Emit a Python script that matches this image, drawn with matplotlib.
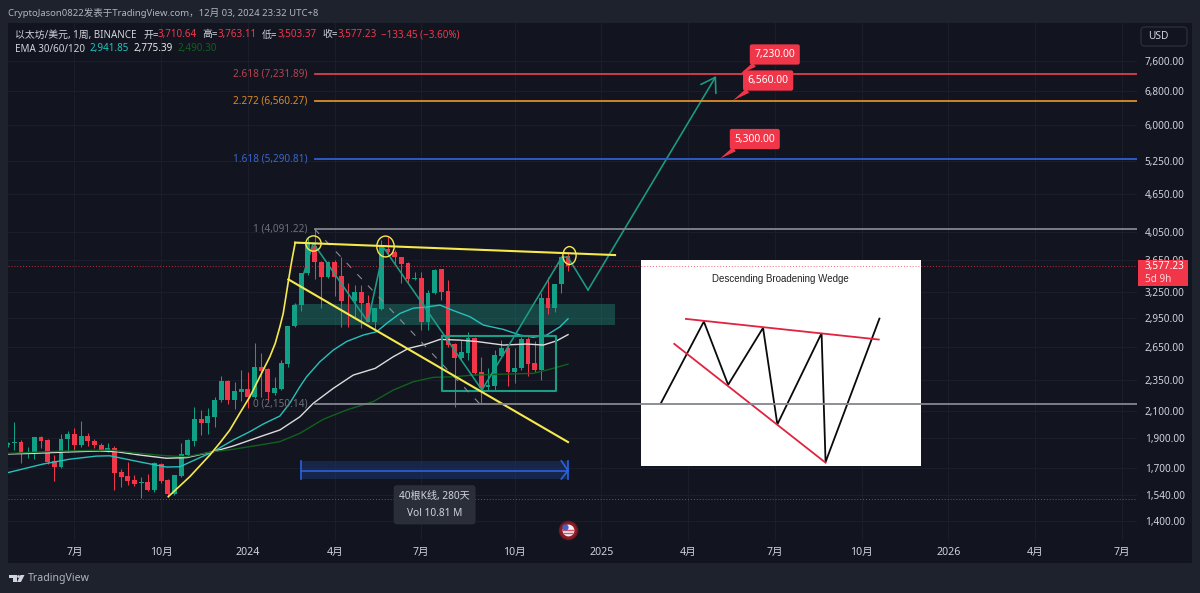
#!/usr/bin/env python3
"""
ETH/USD weekly chart (TradingView look) with fib levels and wedge drawing
"""
import numpy as np
import matplotlib
matplotlib.use('Agg')
import matplotlib.pyplot as plt
from matplotlib.markers import MarkerStyle
from matplotlib.patches import Circle, FancyBboxPatch, Polygon, Rectangle
from matplotlib.transforms import Affine2D, IdentityTransform

plt.rcParams['font.family'] = ['Noto Sans', 'Noto Sans CJK SC', 'DejaVu Sans']

BG = '#121520'
PANEL = '#1e222d'
GRID = '#1a1e2a'
UP = '#10a085'
DOWN = '#f2364a'
TEXT = '#d1d4dc'
YELLOW = '#f5e94e'
TEAL = '#1b9c85'

# weekly candles, oldest first
opens = [1852, 1864, 1870, 1788, 1798, 1903, 1884, 1747, 1708, 1891, 1928, 1850, 1914, 1877, 1850, 1810, 1827,
         1675, 1651, 1627, 1611, 1615, 1568, 1723, 1627, 1543, 1653, 1783, 1879, 2032, 2003, 2050, 2182, 2343,
         2182, 2249, 2270, 2209, 2461, 2449, 2237, 2270, 2491, 2864, 3094, 3477, 3842, 3627, 3433, 3627, 3443,
         3146, 3139, 3242, 3122, 2910, 3048, 3807, 3763, 3693, 3606, 3400, 3413, 2910, 3229, 3528, 3258, 2681,
         2544, 2596, 2737, 2416, 2287, 2300, 2568, 2645, 2422, 2452, 2727, 2497, 2437, 3170, 3059, 3342, 3710.64]
highs = [1873, 2011, 1884, 1834, 1907, 1912, 1889, 1783, 1924, 1950, 1967, 2020, 1931, 1891, 1866, 1866, 1843,
         1692, 1736, 1657, 1647, 1661, 1740, 1734, 1631, 1657, 1862, 1889, 2130, 2104, 2117, 2209, 2384, 2349,
         2334, 2437, 2422, 2693, 2596, 2452, 2377, 2528, 2864, 3113, 3477, 3975, 4091, 3640, 3640, 3650, 3693,
         3352, 3330, 3330, 3210, 3059, 3929, 3966, 3787, 3693, 3627, 3497, 3497, 3270, 3528, 3528, 3392, 2687,
         2720, 2805, 2754, 2553, 2452, 2622, 2720, 2661, 2639, 2754, 2754, 2710, 3235, 3424, 3342, 3704, 3763.11]
lows = [1838, 1816, 1730, 1762, 1756, 1827, 1725, 1621, 1698, 1805, 1816, 1838, 1843, 1827, 1810, 1803, 1568,
        1587, 1597, 1591, 1524, 1564, 1558, 1611, 1530, 1539, 1647, 1772, 1843, 1919, 1926, 1975, 2170, 2148,
        2110, 2174, 2117, 2196, 2209, 2174, 2223, 2264, 2467, 2857, 3032, 3459, 3400, 3059, 3420, 3200, 2857,
        2857, 2964, 2840, 2905, 2822, 3038, 3718, 3584, 3352, 3352, 3392, 2822, 2822, 3222, 3152, 2654, 2130,
        2528, 2528, 2392, 2156, 2264, 2264, 2560, 2300, 2321, 2437, 2383, 2422, 2349, 2993, 3020, 3235, 3503.37]
closes = [1862, 1873, 1788, 1801, 1903, 1877, 1740, 1708, 1891, 1928, 1850, 1914, 1875, 1848, 1816, 1827, 1671,
          1647, 1623, 1603, 1615, 1568, 1730, 1623, 1543, 1657, 1788, 1884, 2032, 2003, 2055, 2182, 2343, 2182,
          2253, 2270, 2204, 2461, 2431, 2245, 2278, 2497, 2864, 3094, 3477, 3881, 3627, 3433, 3627, 3433, 3144,
          3139, 3242, 3122, 2910, 3059, 3830, 3763, 3687, 3597, 3405, 3413, 2910, 3229, 3519, 3250, 2671, 2544,
          2600, 2737, 2407, 2278, 2306, 2575, 2645, 2422, 2452, 2727, 2491, 2437, 3170, 3059, 3342, 3693, 3577.23]

# EMA lines, read at bar positions
ema30_x = [0, 5.3, 9.3, 13.3, 15.3, 17.8, 20.8, 23.8, 25.8, 28.3, 30.8, 33.8, 36.3, 38.3, 40.8, 42.3, 43.8, 44.8,
           46.8, 48.8, 50.8, 53.3, 55.3, 56.8, 58.8, 60.8, 62.8, 64.8, 66.8, 69.3, 71.3, 74.3, 76.8, 78.8, 80.8,
           82.8, 84]
ema30 = [1671, 1725, 1756, 1776, 1778, 1756, 1730, 1706, 1708, 1756, 1805, 1884, 1943, 1998, 2058, 2158, 2292, 2377,
         2512, 2622, 2706, 2771, 2805, 2892, 3000, 3059, 3071, 3094, 3032, 2964, 2875, 2829, 2771, 2748, 2771,
         2857, 2941.85]
ema60_x = [0, 3.8, 8.8, 13.8, 16.3, 19.8, 23.8, 26.8, 30.8, 33.8, 37.8, 40.8, 43.8, 45.8, 48.8, 51.8, 55.1, 57.8,
           60.1, 62.8, 64.8, 67.8, 70.3, 74.3, 77.8, 80.3, 82.3, 84]
ema60 = [1790, 1794, 1803, 1810, 1805, 1783, 1762, 1766, 1805, 1843, 1907, 1955, 2052, 2156, 2278, 2392, 2452, 2559,
         2639, 2681, 2727, 2720, 2706, 2671, 2681, 2671, 2713, 2775.39]
ema120_x = [0, 8.8, 15.3, 18.8, 23.8, 26.8, 30.8, 33.8, 37.8, 40.8, 43.8, 47.3, 50.8, 54.8, 57.8, 60.8, 63.8, 66.8,
            69.8, 74.8, 78.8, 81.8, 84]
ema120 = [1794, 1810, 1816, 1798, 1778, 1772, 1805, 1821, 1850, 1873, 1931, 2033, 2104, 2170, 2264, 2334, 2372, 2377,
          2392, 2401, 2407, 2452, 2490.30]

# fib levels
fib_prices = [7231.89, 6560.27, 5290.81, 4091.22, 2150.14]
fib_labels = ['2.618 (7,231.89)', '2.272 (6,560.27)', '1.618 (5,290.81)', '1 (4,091.22)', '0 (2,150.14)']
fib_colors = ['#d9404c', '#dd8d2b', '#2f5fd0', '#83868e', '#83868e']
fib_text_colors = ['#b8434c', '#d98a2c', '#3a66cc', '#6d7078', '#6d7078']

# hand drawn lines on the chart
curve_x = [24.07, 27.3, 30.3, 31.8, 33.3, 34.8, 36.3, 38.3, 39.3, 40.1, 40.8, 41.3, 41.7, 42.1, 42.6, 43.1]
curve_y = [1530, 1647, 1783, 1864, 1955, 2080, 2209, 2437, 2559, 2687, 2857, 3000, 3190, 3392, 3650, 3892]
upper_x = [43.07, 91.05]
upper_y = [3892, 3718]
lower_x = [42.07, 84]
lower_y = [3400, 1870]
path_x = [44.4, 45.8, 54.0, 56.4, 71.1, 83.1, 84, 87]
path_y = [3481, 3885, 2908, 3815, 2264, 3693, 3687, 3270]
arrow_tip = (106.2, 7179)
dash_x = [46, 70.8]
dash_y = [4091.22, 2150.14]
circle_x = [45.8, 56.5, 84.1]
circle_y = [3892, 3850, 3720]

# callouts: anchor bar, anchor price, text bar, text price
call_text = ['7,230.00', '6,560.00', '5,300.00']
call_x = [109.8, 108.7, 106.8]
call_y = [7230, 6560, 5300]
call_tx = [115, 114, 112]
call_ty = [7770, 7061, 5695]

price_ticks = [7600, 6800, 6000, 5250, 4650, 4050, 3650, 3250, 2950, 2650, 2350, 2100, 1900, 1700, 1540, 1400]
time_ticks = [10, 23, 36, 49, 62, 76, 89, 102, 115, 128, 141, 154, 167]
time_labels = ['7月', '10月', '2024', '4月', '7月', '10月', '2025', '4月', '7月', '10月', '2026', '4月', '7月']

# little wedge picture, in its own coordinates
wedge_x = [93, 222, 295, 400, 443, 576, 588, 750]
wedge_y = [458, 213, 403, 232, 522, 248, 635, 204]
wedge_top_x = [168, 748]
wedge_top_y = [205, 267]
wedge_low_x = [133, 588]
wedge_low_y = [280, 637]


def px(x, y):
    return x / 1200, 1 - y / 593


fig = plt.figure(figsize=(12, 5.93), dpi=100, facecolor=PANEL)
fig.add_artist(Rectangle(px(8, 563), 1184 / 1200, 540 / 593, transform=fig.transFigure,
                         fc=BG, ec='none', zorder=-1))

rect = [8 / 1200, 1 - 541 / 593, 1129 / 1200, 518 / 593]
ax = fig.add_axes(rect, zorder=1)
ax.set_facecolor(BG)
ax.set_yscale('log')
ax.set_xlim(0.04, 169.3)
ax.set_ylim(1300, 8723)
for s in ax.spines.values():
    s.set_visible(False)
ax.yaxis.tick_right()
ax.set_yticks(price_ticks)
ax.set_yticklabels([f'{p:,.2f}' for p in price_ticks])
ax.minorticks_off()
ax.set_xticks(time_ticks)
ax.set_xticklabels(time_labels)
for lab in ax.get_xticklabels():
    if lab.get_text().startswith('20'):
        lab.set_fontweight('bold')
ax.tick_params(axis='y', length=0, pad=5.5, labelsize=7.2, labelcolor=TEXT)
ax.tick_params(axis='x', length=0, pad=4, labelsize=7.6, labelcolor=TEXT)
ax.grid(True, color=GRID, lw=0.8, zorder=0)
ax.set_axisbelow(True)

x = np.arange(len(opens))
opens = np.array(opens)
highs = np.array(highs)
lows = np.array(lows)
closes = np.array(closes)
colors = np.where(closes >= opens, UP, DOWN)

# zone and box go under the candles
ax.fill_between([42.7, 91], 2875, 3105, color='#1f8f7c', alpha=0.4, lw=0, zorder=1)
ax.vlines(x, lows, highs, colors=colors, lw=0.75, zorder=3)
ax.bar(x, np.abs(closes - opens), bottom=np.minimum(opens, closes), width=0.72, color=colors, zorder=3)

ax.plot(ema30_x, ema30, color='#25c2bc', lw=1.0, zorder=4)
ax.plot(ema60_x, ema60, color='#dcdcdc', lw=1.0, zorder=4)
ax.plot(ema120_x, ema120, color='#10601f', lw=1.0, zorder=4)

ax.plot([65.1, 82.2, 82.2, 65.1, 65.1], [2761, 2761, 2256, 2256, 2761], color=TEAL, lw=1.5, zorder=5)
ax.plot(dash_x, dash_y, color='#8a8d95', lw=0.8, dashes=(6, 8), zorder=5)
ax.plot(path_x, path_y, color=TEAL, lw=1.15, zorder=5, solid_joinstyle='miter')
ax.annotate('', xy=arrow_tip, xytext=(path_x[-1], path_y[-1]), zorder=5,
            arrowprops=dict(arrowstyle='->,head_length=0.7,head_width=0.45', color=TEAL, lw=1.15,
                            shrinkA=0, shrinkB=0, mutation_scale=14))

ax.plot(curve_x, curve_y, color=YELLOW, lw=1.2, zorder=6)
ax.plot(upper_x, upper_y, color=YELLOW, lw=1.5, zorder=6)
ax.plot(lower_x, lower_y, color=YELLOW, lw=1.5, zorder=6)
circle_stretch = [1.0, 1.2, 1.35]
circle_size = [11, 12.5, 9.5]
for cx, cy, st, sz in zip(circle_x, circle_y, circle_stretch, circle_size):
    ax.plot([cx], [cy], ls='none', ms=sz, mfc='none', mec=YELLOW, mew=1.0, zorder=6,
            marker=MarkerStyle('o', transform=Affine2D().scale(1, st)))

# measure arrow
ax.fill_between([44, 84], 1633, 1745, color='#1f3a7a', alpha=0.45, lw=0, zorder=2)
ax.plot([44, 84], [1684, 1684], color='#2a62e0', lw=1.2, zorder=6)
ax.plot([44, 44], [1633, 1745], color='#2a62e0', lw=1.2, zorder=6)
ax.plot([84, 84], [1633, 1745], color='#2a62e0', lw=1.2, zorder=6)
ax.plot([83, 84, 83], [1745, 1684, 1633], color='#2a62e0', lw=1.2, zorder=6)
ax.text(64, 1485, '40根K线, 280天\nVol 10.81 M', color=TEXT, fontsize=7.3, ha='center', va='center', linespacing=1.75,
        zorder=7, bbox=dict(boxstyle='round,pad=0.55,rounding_size=0.3', fc='#2a2e39', ec='none'))
ax.axhline(1518, color='#5d6069', lw=0.7, ls=(0, (1, 2)), zorder=1)

# flag marker
ax.plot([84], [1354], marker='o', ms=13, mfc='#8e1d26', mec='#6e1720', zorder=7)
ax.plot([84], [1354], marker='o', ms=8.5, mfc='#f0f0f5', mec='none', zorder=8)
ax.plot([84], [1337], marker='_', ms=7, mec='#e0505a', mew=1.0, zorder=8)
ax.plot([84], [1354], marker='_', ms=8, mec='#e0505a', mew=1.0, zorder=8)
ax.plot([83.6], [1369], marker='o', ms=4.5, mfc='#3f63c8', mec='none', zorder=9)

# wedge picture
ins = fig.add_axes([641 / 1200, 1 - 466 / 593, 280 / 1200, 206 / 593], zorder=5)
ins.set_facecolor('white')
ins.set_xlim(33, 875)
ins.set_ylim(647, 28)
ins.set_xticks([])
ins.set_yticks([])
for s in ins.spines.values():
    s.set_visible(False)
ins.plot(wedge_x, wedge_y, color='#0a0a0a', lw=1.3, solid_joinstyle='miter')
ins.plot(wedge_top_x, wedge_top_y, color='#e0233f', lw=1.3)
ins.plot(wedge_low_x, wedge_low_y, color='#e0233f', lw=1.3)
ins.text(451, 84, 'Descending Broadening Wedge', color='#222222', ha='center', va='center', fontsize=7.0,
         family='Liberation Sans')

# top layer, goes over the picture too
top = fig.add_axes(rect, sharex=ax, sharey=ax, zorder=6, frameon=False)
top.axis('off')
top.axhline(3577.23, color='#f2364a', lw=0.7, ls=(0, (1, 2)), alpha=0.75)
for p, lab, c, tc in zip(fib_prices, fib_labels, fib_colors, fib_text_colors):
    top.plot([46.1, 169.3], [p, p], color=c, lw=1.3)
    top.text(44.9, p, lab, color=tc, fontsize=7.2, ha='right', va='center')
for s, xa, ya, tx, ty in zip(call_text, call_x, call_y, call_tx, call_ty):
    top.annotate(s, xy=(xa, ya), xytext=(tx, ty), color='white', fontsize=7.4, fontweight='bold',
                 ha='center', va='center',
                 bbox=dict(boxstyle='round,pad=0.45,rounding_size=0.2', fc=DOWN, ec='none'),
                 arrowprops=dict(arrowstyle='wedge,tail_width=0.5,shrink_factor=0.5', fc=DOWN, ec='none',
                                 shrinkA=0, shrinkB=0, relpos=(0.25, 0.2)))

# header
fig.text(*px(8, 13), 'CryptoJason0822发表于TradingView.com，12月 03, 2024 23:32 UTC+8', color='#b2b5be',
         fontsize=6.85, va='center')
legend_row = [(15, '以太坊/美元, 1周, BINANCE', TEXT), (143, '开=', TEXT), (157, '3,710.64', DOWN),
              (202, '高=', TEXT), (218, '3,763.11', DOWN), (262, '低=', TEXT), (277, '3,503.37', DOWN),
              (322, '收=', TEXT), (337, '3,577.23', DOWN), (381, '−133.45 (−3.60%)', DOWN)]
for lx, s, c in legend_row:
    fig.text(*px(lx, 35), s, color=c, fontsize=7.1, va='center')
ema_row = [(15, 'EMA 30/60/120', TEXT), (89, '2,941.85', '#25c2bc'), (134, '2,775.39', '#e8e8e8'),
           (178, '2,490.30', '#10601f')]
for lx, s, c in ema_row:
    fig.text(*px(lx, 49), s, color=c, fontsize=7.1, va='center')

# price scale bits
fig.add_artist(FancyBboxPatch((1141, 593 - 46), 46, 19, boxstyle='round,pad=0,rounding_size=4',
                              transform=IdentityTransform(), fc=BG, ec='#2a2e39', lw=1.0, zorder=10))
fig.text(*px(1148, 36.5), 'USD', color=TEXT, fontsize=7.3, va='center', zorder=11)
fig.add_artist(Rectangle(px(1138, 286), 50 / 1200, 26 / 593, transform=fig.transFigure, fc=DOWN, ec='none', zorder=10))
fig.text(*px(1145, 267), '3,577.23', color='white', fontsize=7.2, va='center', zorder=11)
fig.text(*px(1145, 279), '5d 9h', color='#ffd5da', fontsize=7.2, va='center', zorder=11)

# footer logo
fig.add_artist(Polygon([(8.5, 593 - 575), (16.5, 593 - 575), (16.5, 593 - 582), (12.5, 593 - 582),
                        (12.5, 593 - 578), (8.5, 593 - 578)],
                       transform=IdentityTransform(), fc=TEXT, ec='none', zorder=10))
fig.add_artist(Circle((18.5, 593 - 576.5), 1.4, transform=IdentityTransform(), fc=TEXT, ec='none', zorder=10))
fig.add_artist(Polygon([(20.5, 593 - 575), (24.5, 593 - 575), (21, 593 - 582), (17, 593 - 582)],
                       transform=IdentityTransform(), fc=TEXT, ec='none', zorder=10))
fig.text(*px(28, 579), 'TradingView', color='#b2b5be', fontsize=7.6, va='center')

fig.savefig('out.png', dpi=100, facecolor=fig.get_facecolor())
